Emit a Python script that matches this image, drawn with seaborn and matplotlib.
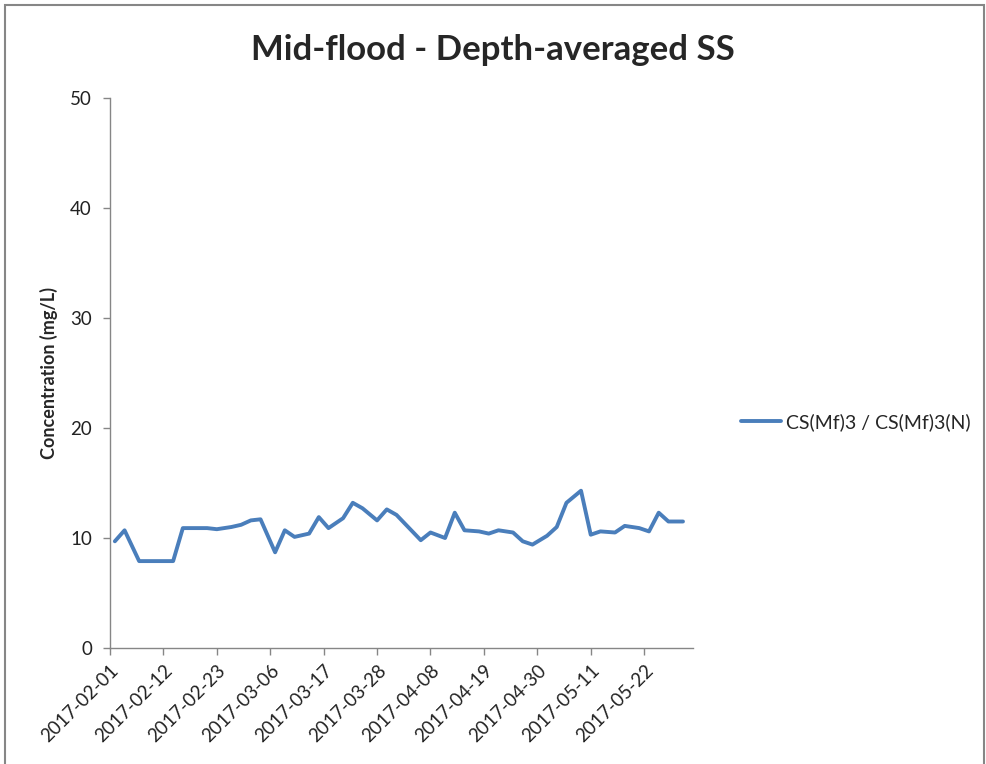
import pandas as pd
import seaborn as sns
import matplotlib.pyplot as plt
import matplotlib.dates as mdates
from matplotlib.patches import Rectangle

# fechas de muestreo (dias desde 2017-02-01) y concentracion
dias = [1, 3, 6, 8, 10, 13, 15, 18, 20, 22, 25, 27, 29, 31, 34, 36, 38, 41, 43, 45,
        48, 50, 52, 55, 57, 59, 64, 66, 69, 71, 73, 76, 78, 80, 83, 85, 87, 90, 92,
        94, 97, 99, 101, 104, 106, 109, 111, 113, 115, 118]
concentracion = [9.7, 10.7, 7.9, 7.9, 7.9, 7.9, 10.9, 10.9, 10.9, 10.8, 11.0, 11.2,
                 11.6, 11.7, 8.7, 10.7, 10.1, 10.4, 11.9, 10.9, 11.8, 13.2, 12.7,
                 11.6, 12.6, 12.1, 9.8, 10.5, 10.0, 12.3, 10.7, 10.6, 10.4, 10.7,
                 10.5, 9.7, 9.4, 10.2, 11.0, 13.2, 14.3, 10.3, 10.6, 10.5, 11.1,
                 10.9, 10.6, 12.3, 11.5, 11.5]
serie = 'CS(Mf)3 / CS(Mf)3(N)'
ticks_y = [0, 10, 20, 30, 40, 50]

inicio = pd.Timestamp('2017-02-01')
datos = pd.DataFrame({
    'fecha': inicio + pd.to_timedelta(dias, unit='D'),
    'conc': concentracion,
    'serie': serie,
})

sns.set_style('white')
plt.rcParams['font.family'] = ['Lato', 'DejaVu Sans']

fig = plt.figure(figsize=(9.86, 7.64), dpi=100)
ax = fig.add_axes([110 / 986, 116 / 764, 582.7 / 986, 550 / 764])

sns.lineplot(x='fecha', y='conc', hue='serie', data=datos, ax=ax,
             palette=['#4a7ebb'], linewidth=2.8)

ax.set_xlim(inicio, inicio + pd.Timedelta(days=120))
ax.set_ylim(0, 50)
ax.set_yticks(ticks_y)
ax.set_xticks(pd.date_range(inicio, periods=11, freq='11D'))
ax.xaxis.set_major_formatter(mdates.DateFormatter('%Y-%m-%d'))

for s in ['top', 'right']:
    ax.spines[s].set_visible(False)
for s in ['left', 'bottom']:
    ax.spines[s].set_color('#868686')
    ax.spines[s].set_linewidth(1)
ax.tick_params(axis='both', direction='out', length=5, width=1, color='#868686',
               labelsize=13.5, labelcolor='#222222', bottom=True, left=True)
ax.tick_params(axis='y', pad=8)
ax.tick_params(axis='x', pad=5)
plt.setp(ax.get_xticklabels(), rotation=45, ha='right', rotation_mode='anchor')

ax.set_xlabel('')
ax.set_ylabel('Concentration (mg/L)', fontsize=13, fontweight='bold', labelpad=9)
fig.text(0.5, 0.935, 'Mid-flood - Depth-averaged SS', ha='center', va='center',
         fontsize=25, fontweight='bold')

ax.legend(loc='center left', bbox_to_anchor=(741 / 986, 1 - 422 / 764),
          bbox_transform=fig.transFigure, frameon=False, fontsize=14,
          borderpad=0, borderaxespad=0, handlelength=2.05, handletextpad=0.25,
          title=None)

fig.patches.append(Rectangle((5 / 986, -0.05), 979 / 986, 1 - 5 / 764 + 0.05,
                             transform=fig.transFigure, fill=False,
                             edgecolor='#868686', linewidth=1.5))

plt.savefig('out.png', dpi=100)
plt.close()
